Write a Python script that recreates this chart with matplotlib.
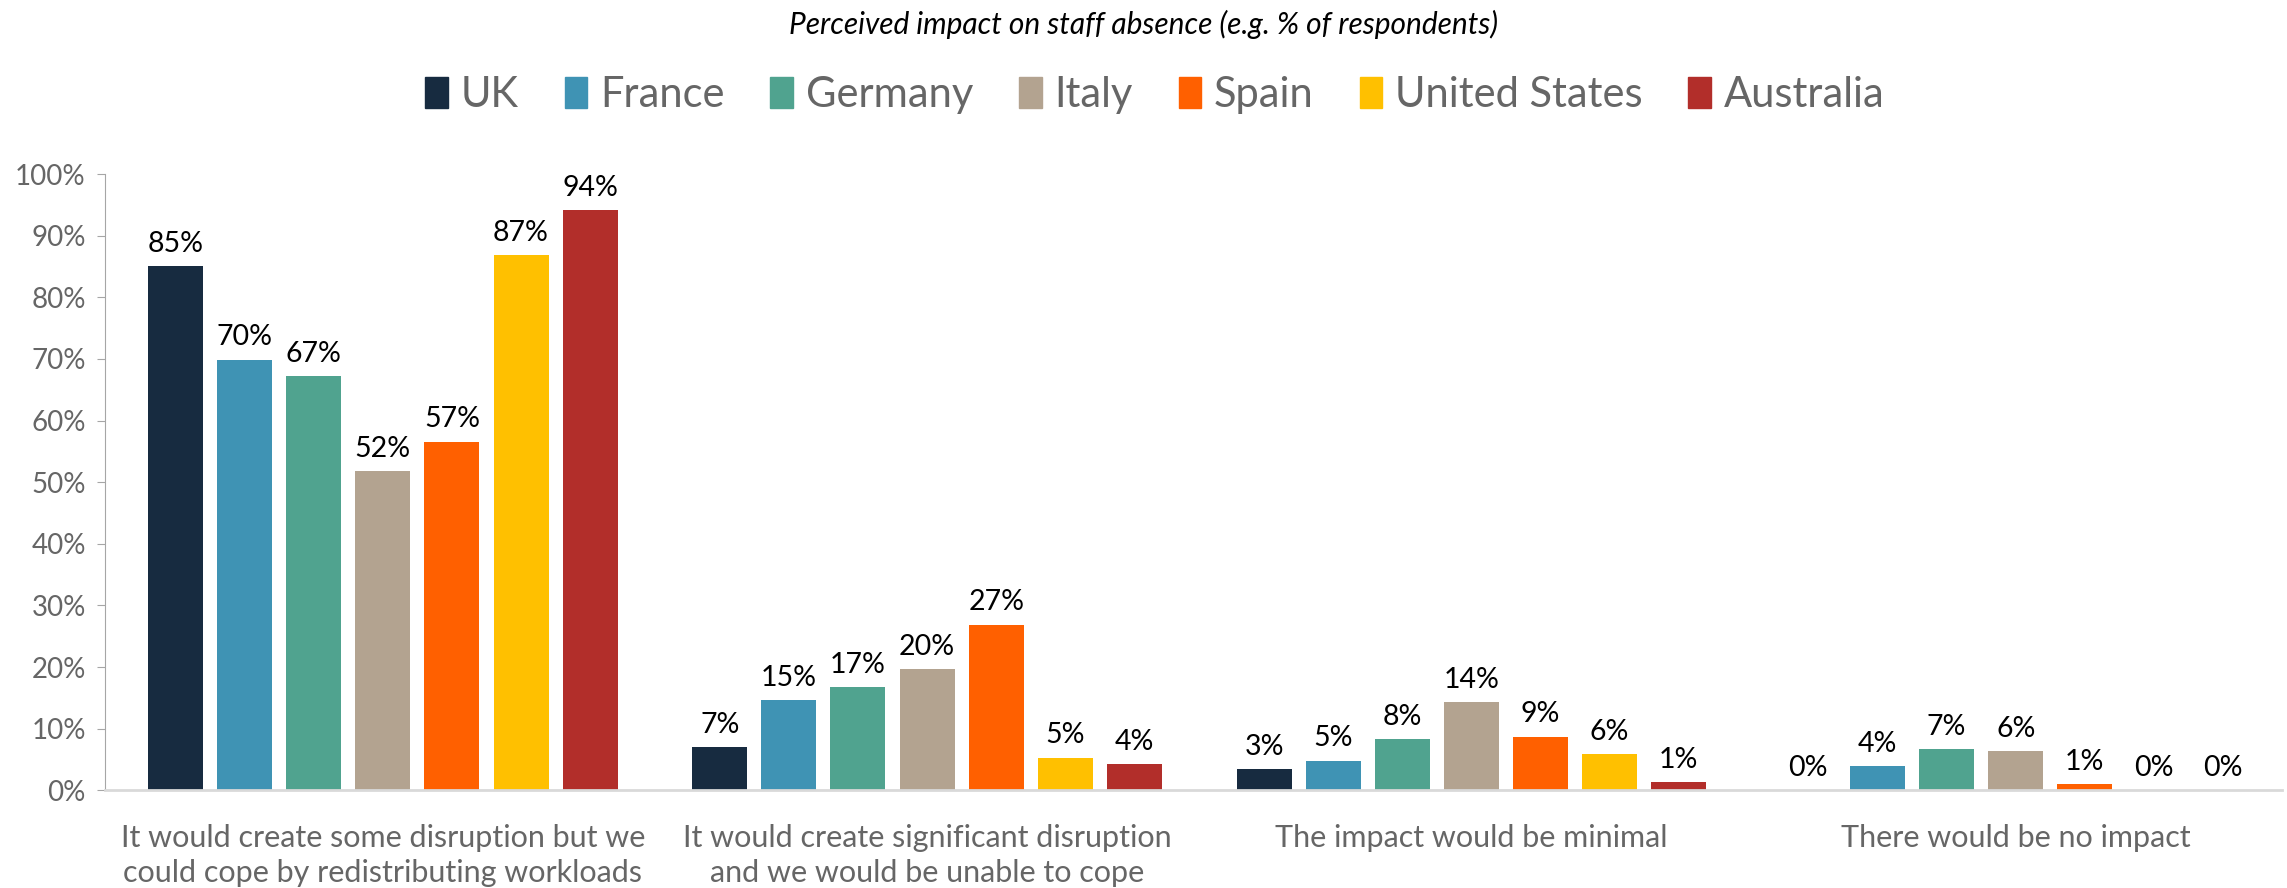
import numpy as np
import matplotlib.pyplot as plt
from matplotlib.patches import Patch

plt.rcParams['font.family'] = ['Lato', 'DejaVu Sans']

categories = ["It would create some disruption but we\ncould cope by redistributing workloads",
              "It would create significant disruption\nand we would be unable to cope",
              "The impact would be minimal",
              "There would be no impact"]
countries = ["UK", "France", "Germany", "Italy", "Spain", "United States", "Australia"]
colors = ["#172B40", "#3F93B4", "#50A38F", "#B3A390", "#FF6000", "#FFC000", "#B22E2A"]

# values in % per country, one entry per category
uk = [85.0, 7.0, 3.4, 0.0]
france = [69.9, 14.6, 4.8, 3.9]
germany = [67.2, 16.7, 8.3, 6.7]
italy = [51.8, 19.7, 14.3, 6.3]
spain = [56.6, 26.9, 8.7, 1.0]
us = [86.8, 5.3, 5.9, 0.0]
australia = [94.2, 4.3, 1.3, 0.0]
series = [uk, france, germany, italy, spain, us, australia]

fig = plt.figure(figsize=(22.87, 8.88), dpi=100)
ax = fig.add_axes([0.046, 0.110, 0.952, 0.694])

x = np.arange(len(categories))
step = 0.127
width = 0.101
for i, (vals, c) in enumerate(zip(series, colors)):
    pos = x + (i - 3) * step
    ax.bar(pos, vals, width=width, color=c, zorder=2)
    for p, v in zip(pos, vals):
        ax.text(p, v + 1.5, "%d%%" % round(v), ha='center', va='bottom',
                fontsize=20.5, color='black')

grey = '#666666'
ax.set_xlim(-0.51, 3.49)
ax.set_ylim(0, 100)
ax.set_yticks(np.arange(0, 101, 10))
ax.set_yticklabels(["%d%%" % t for t in range(0, 101, 10)], fontsize=20,
                   color=grey)
ax.set_xticks(x)
ax.set_xticklabels(categories, fontsize=22, color=grey, linespacing=1.3)
ax.tick_params(axis='x', length=0, pad=24)
ax.tick_params(axis='y', length=6, color='#A6A6A6', pad=8)
for s in ['top', 'right']:
    ax.spines[s].set_visible(False)
ax.spines['left'].set_color('#A6A6A6')
ax.spines['bottom'].set_color('#D9D9D9')
ax.spines['bottom'].set_linewidth(2)

handles = [Patch(color=c, label=n) for n, c in zip(countries, colors)]
fig.legend(handles=handles, loc='center', bbox_to_anchor=(0.505, 0.893), ncol=7,
           frameon=False, labelcolor=grey, prop={'size': 30},
           handlelength=0.55, handleheight=0.75, handletextpad=0.3, columnspacing=1.1)

fig.text(0.5, 0.972, "Perceived impact on staff absence (e.g. % of respondents)",
         ha='center', va='center', fontsize=21.5, style='italic', color='black')

plt.savefig("out.png")
